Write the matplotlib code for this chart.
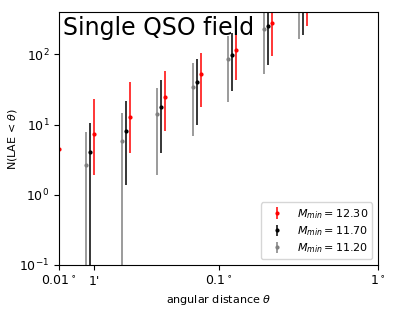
import numpy as np
import matplotlib
matplotlib.use('Agg')
import matplotlib.pyplot as plt

# angular bins (arcmin) and small per-series offsets so the bars don't overlap
theta_arcmin = np.array([0.6, 1.0, 1.67, 2.78, 4.63, 7.72, 12.9, 21.4])
offsets = {'12.30': 1.0, '11.70': 0.944, '11.20': 0.891}

# N(LAE < theta) with lower / upper bounds, per minimum halo mass
n_1230 = np.array([4.5, 7.3, 12.9, 24.5, 51.8, 116.6, 275.0, 650.0])
lo_1230 = np.array([1.0, 1.93, 3.9, 8.0, 17.7, 43.5, 94.6, 249.0])
hi_1230 = np.array([10.7, 22.8, 40.0, 57.8, 104.0, 205.0, 480.0, 1000.0])

n_1170 = np.array([2.0, 4.0, 8.2, 17.7, 40.0, 96.8, 249.0, 600.0])
lo_1170 = np.array([0.01, 0.01, 1.38, 3.9, 9.8, 29.9, 71.3, 191.0])
hi_1170 = np.array([6.0, 10.5, 21.5, 42.5, 86.7, 198.0, 450.0, 950.0])

n_1120 = np.array([1.5, 2.65, 5.85, 13.9, 34.0, 86.8, 228.0, 560.0])
lo_1120 = np.array([0.01, 0.01, 0.01, 1.93, 6.9, 20.6, 53.0, 164.0])
hi_1120 = np.array([5.0, 7.9, 14.7, 33.0, 74.0, 183.0, 430.0, 900.0])

series = [
    ('12.30', n_1230, lo_1230, hi_1230, 'red'),
    ('11.70', n_1170, lo_1170, hi_1170, 'black'),
    ('11.20', n_1120, lo_1120, hi_1120, 'gray'),
]

fig = plt.figure(figsize=(3.95, 3.1), dpi=100)
ax = fig.add_axes([0.1494, 0.1452, 0.8076, 0.8161])

for mass, n, lo, hi, color in series:
    x = theta_arcmin / 60.0 * offsets[mass]
    yerr = np.vstack([n - lo, hi - n])
    ax.errorbar(x, n, yerr=yerr, fmt='o', color=color, ms=2, lw=1.1,
                capsize=0, label=r'$M_{min} = %s$' % mass)

ax.set_xscale('log')
ax.set_yscale('log')
ax.set_xlim(0.01, 1.0)
ax.set_ylim(0.1, 400)

ax.set_xticks([0.01, 1 / 60.0, 0.1, 1.0])
ax.set_xticklabels([r'0.01$^\circ$', "1'", r'0.1$^\circ$', r'1$^\circ$'])
ax.minorticks_off()
ax.tick_params(labelsize=9)

ax.set_xlabel(r'angular distance $\theta$', fontsize=8)
ax.set_ylabel(r'N(LAE < $\theta$)', fontsize=8, labelpad=0)

ax.text(0.012, 0.91, 'Single QSO field', transform=ax.transAxes,
        fontsize=17, va='baseline', ha='left')

ax.legend(loc='lower right', fontsize=8, handletextpad=0.8,
          borderpad=0.4, labelspacing=0.3)

fig.savefig('out.png', dpi=100)
